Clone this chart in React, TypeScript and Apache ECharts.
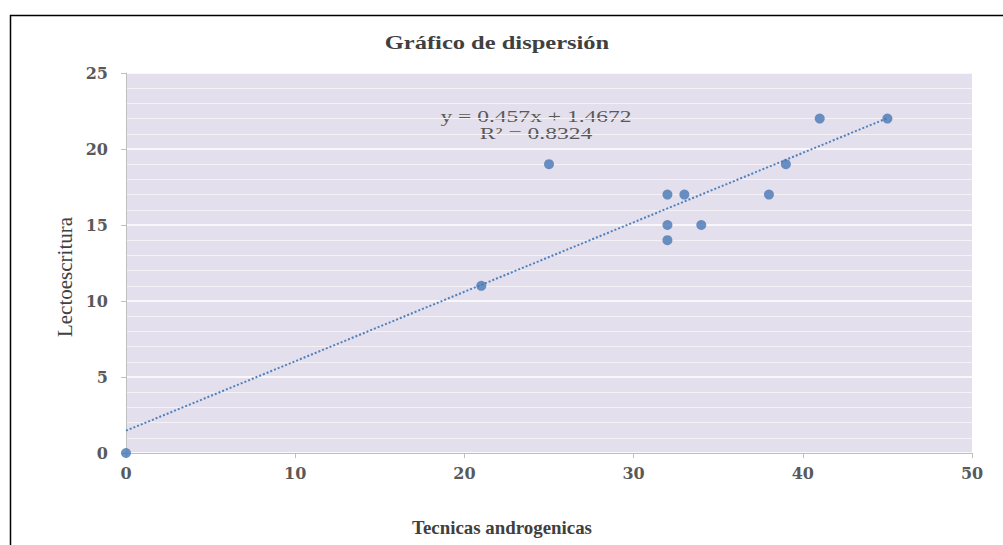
import React, { useEffect, useRef } from "react";
import * as echarts from "echarts";

const title = "Gráfico de dispersión";
const xName = "Tecnicas androgenicas";
const yName = "Lectoescritura";
const xValues = [0, 21, 25, 32, 33, 32, 32, 34, 38, 39, 41, 45];
const yValues = [0, 11, 19, 17, 17, 15, 14, 15, 17, 19, 22, 22];
const slope = 0.457;
const intercept = 1.4672;
const r2 = 0.8324;
const trendX = [0, 45];

export default function App() {
  const ref = useRef<HTMLDivElement>(null);
  useEffect(() => {
    const chart = echarts.init(ref.current!, null, { renderer: "svg" });
    const serif = "DejaVu Serif, serif";
    const tserif = "Liberation Serif, serif";
    const points = xValues.map((x, i) => [x, yValues[i]]);
    const trend = trendX.map((x) => [x, slope * x + intercept]);
    chart.setOption({
      animation: false,
      backgroundColor: "#ffffff",
      grid: { left: 126, right: 31, top: 73, bottom: 92, show: true, backgroundColor: "#E4DFEC", borderWidth: 0 },
      xAxis: {
        type: "value",
        min: 0,
        max: 50,
        interval: 10,
        axisLine: { show: true, lineStyle: { color: "#BFBFBF" } },
        axisTick: { show: true, inside: false, length: 5, lineStyle: { color: "#BFBFBF" } },
        axisLabel: { fontFamily: serif, fontSize: 16, fontWeight: "bold", color: "#595959", margin: 12 },
        splitLine: { show: false },
      },
      yAxis: {
        type: "value",
        min: 0,
        max: 25,
        interval: 5,
        axisLine: { show: true, lineStyle: { color: "#BFBFBF" } },
        axisTick: { show: true, length: 5, lineStyle: { color: "#BFBFBF" } },
        axisLabel: { fontFamily: serif, fontSize: 16, fontWeight: "bold", color: "#595959", margin: 18 },
        splitLine: { show: true, lineStyle: { color: "#ffffff", width: 1.5 } },
        minorTick: { show: false, splitNumber: 5 },
        minorSplitLine: { show: true, lineStyle: { color: "#F4F1F7", width: 1 } },
      },
      series: [
        {
          type: "line",
          data: trend,
          symbol: "none",
          lineStyle: { color: "#4F81BD", width: 2, type: [2, 2] },
          silent: true,
          z: 1,
        },
        {
          type: "scatter",
          data: points,
          symbol: "circle",
          symbolSize: 10,
          itemStyle: { color: "#4677B5" },
          z: 2,
        },
      ],
      graphic: [
        {
          type: "rect",
          shape: { x: 10.5, y: 15.5, width: 1010, height: 560 },
          style: { fill: "none", stroke: "#000000", lineWidth: 1.5 },
          silent: true,
        },
        {
          type: "text",
          x: 497,
          y: 43,
          scaleX: 1.29,
          style: {
            text: title,
            fontFamily: tserif,
            fontSize: 19,
            fontWeight: "bold",
            fill: "#404040",
            align: "center",
            verticalAlign: "middle",
          },
        },
        {
          type: "text",
          x: 536,
          y: 116,
          scaleX: 1.47,
          style: {
            text: `y = ${slope}x + ${intercept}`,
            fontFamily: tserif,
            fontSize: 16,
            fill: "#595959",
            align: "center",
            verticalAlign: "middle",
          },
        },
        {
          type: "text",
          x: 536,
          y: 133,
          scaleX: 1.47,
          style: {
            text: `R² = ${r2}`,
            fontFamily: tserif,
            fontSize: 16,
            fill: "#595959",
            align: "center",
            verticalAlign: "middle",
          },
        },
        {
          type: "text",
          x: 502,
          y: 528,
          scaleX: 1.05,
          style: {
            text: xName,
            fontFamily: tserif,
            fontSize: 18,
            fontWeight: "bold",
            fill: "#404040",
            align: "center",
            verticalAlign: "middle",
          },
        },
        {
          type: "text",
          x: 65,
          y: 277,
          rotation: Math.PI / 2,
          style: {
            text: yName,
            fontFamily: tserif,
            fontSize: 21,
            fill: "#404040",
            align: "center",
            verticalAlign: "middle",
          },
        },
      ],
    });
    return () => chart.dispose();
  }, []);
  return <div ref={ref} style={{ position: "fixed", left: 0, top: 0, width: 1003, height: 545 }} />;
}
